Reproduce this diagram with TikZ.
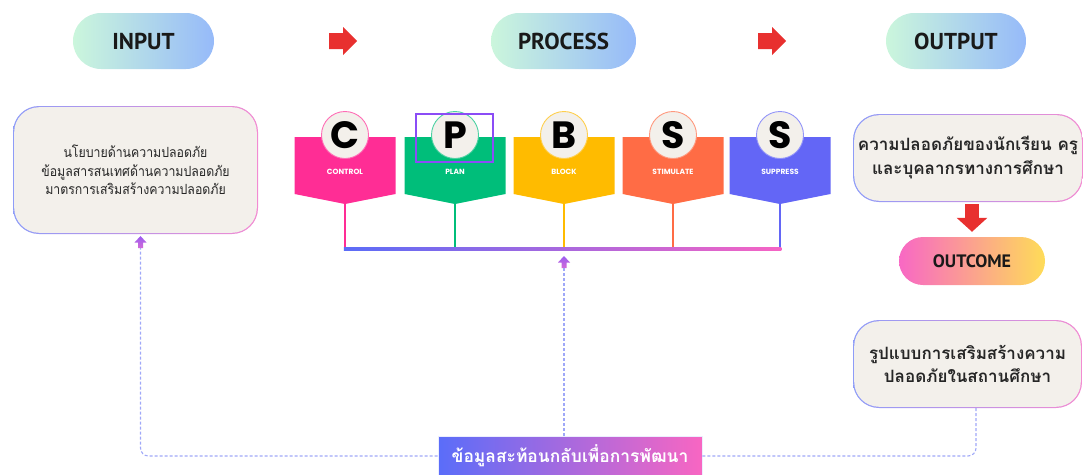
\documentclass[tikz,border=0pt]{standalone}
\usepackage{fontspec}
\setmainfont{PT Sans}
\newfontfamily\popfont{Poppins}
\newfontfamily\thaifont[Script=Thai]{Loma}
\newfontfamily\thainarrow[Script=Thai,FakeStretch=0.88]{Loma}
\usetikzlibrary{calc,arrows.meta}
\definecolor{beige}{HTML}{F3F0EB}
\definecolor{pillL}{HTML}{CBF6DC}
\definecolor{pillR}{HTML}{96BAF9}
\definecolor{bordL}{HTML}{8E9CF8}
\definecolor{bordR}{HTML}{F28BD2}
\definecolor{cctrl}{HTML}{FF2D95}
\definecolor{cplan}{HTML}{00BE7A}
\definecolor{cblock}{HTML}{FFBB00}
\definecolor{cstim}{HTML}{FF6C45}
\definecolor{csupp}{HTML}{6366F6}
\definecolor{arrred}{HTML}{E8302F}
\definecolor{planpurple}{HTML}{8B4CF6}
\definecolor{fbline}{HTML}{9FA8F8}
\definecolor{busL}{HTML}{5B6CF7}
\definecolor{busM}{HTML}{A262EE}
\definecolor{busR}{HTML}{F664C4}
\definecolor{fbL}{HTML}{5A6DF9}
\definecolor{fbR}{HTML}{F866C2}
\definecolor{ocL}{HTML}{F868C4}
\definecolor{ocM}{HTML}{FCA38A}
\definecolor{ocR}{HTML}{FEDC58}
\definecolor{upT}{HTML}{9A5CF0}
\definecolor{upB}{HTML}{D36AD8}
\begin{document}
\begin{tikzpicture}[x=1pt,y=-1pt,
  pill/.style={rectangle,rounded corners=28pt,minimum width=141pt,minimum height=56pt,inner sep=0pt,
    left color=pillL,right color=pillR,font=\bfseries\fontsize{23}{26}\selectfont,text=black!90},
  outerbox/.style={rectangle,rounded corners=26pt,inner sep=0pt,left color=bordL,right color=bordR},
  innerbox/.style={rectangle,rounded corners=25pt,inner sep=0pt,fill=beige,align=center,text=black!85},
  blocklabel/.style={font=\popfont\bfseries\fontsize{7.5}{8}\selectfont,text=white},
  letter/.style={circle,fill=beige,line width=0.9pt,minimum size=47pt,inner sep=0pt,
    font=\popfont\bfseries\fontsize{38}{38}\selectfont,text=black},
  fbl/.style={draw=fbline,line width=1.1pt,dash pattern=on 3pt off 2pt,rounded corners=8pt},
  redarrow/.style={fill=arrred},
  uparrow/.style={top color=upT,bottom color=upB}
]
\useasboundingbox (0,0) rectangle (1083,474);

% header pills
\node[pill] (input) at (143.5,41) {INPUT};
\node[pill,minimum width=145pt] (process) at (563.5,41) {PROCESS};
\node[pill,minimum width=140pt] (output) at (956,41) {OUTPUT};

% red right arrows
\fill[redarrow] (329,33) -- (343,33) -- (343,27) -- (357,41) -- (343,55) -- (343,49) -- (329,49) -- cycle;
\fill[redarrow] (758,33) -- (772,33) -- (772,27) -- (786,41) -- (772,55) -- (772,49) -- (758,49) -- cycle;

% input box
\node[outerbox,minimum width=245pt,minimum height=128pt] (inb) at (135.5,170) {};
\node[innerbox,minimum width=242.6pt,minimum height=125.6pt,
  font=\thainarrow\fontsize{14}{18.5}\selectfont] (intext) at (inb)
  {นโยบายด้านความปลอดภัย\\ข้อมูลสารสนเทศด้านความปลอดภัย\\มาตรการเสริมสร้างความปลอดภัย};

% output box 1
\node[outerbox,minimum width=230pt,minimum height=88pt] (out1) at (968,158) {};
\node[innerbox,minimum width=227.6pt,minimum height=85.6pt,
  font=\thaifont\bfseries\fontsize{17}{24}\selectfont] (out1t) at (out1)
  {ความปลอดภัยของนักเรียน ครู\\และบุคลากรทางการศึกษา};

% outcome pill
\node[rectangle,rounded corners=24pt,minimum width=146pt,minimum height=48pt,inner sep=0pt,
  left color=ocL,middle color=ocM,right color=ocR,
  font=\bfseries\fontsize{18}{20}\selectfont,text=black!90] (outc) at (972,261) {OUTCOME};

% red down arrow out1 -> outcome
\draw[arrred,line width=14pt,-{Triangle[width=30pt,length=14pt]},shorten <=2pt,shorten >=5pt]
  (out1.south -| outc) -- (outc.north);

% output box 2
\node[outerbox,minimum width=229pt,minimum height=88pt] (out2) at (967.5,364) {};
\node[innerbox,minimum width=226.6pt,minimum height=85.6pt,
  font=\thaifont\bfseries\fontsize{17}{23}\selectfont] (out2t) at (out2)
  {รูปแบบการเสริมสร้างความ\\ปลอดภัยในสถานศึกษา};

% process blocks
\coordinate (busy) at (0,248);
\foreach \cx/\col/\L/\lab/\n in {345/cctrl/C/CONTROL/1, 455/cplan/P/PLAN/2,
    564/cblock/B/BLOCK/3, 673/cstim/S/STIMULATE/4, 780/csupp/S/SUPPRESS/5}{
  \fill[\col] (\cx-50.5,137) -- (\cx+50.5,137) -- (\cx+50.5,194) -- (\cx,204)
     -- (\cx-50.5,194) -- cycle;
  \coordinate (tip\n) at (\cx,204);
  \draw[\col,line width=2.5pt] (tip\n) -- (tip\n |- busy);
  \node[letter,draw=\col!70!white] (circ\n) at (\cx,135) {\L};
  \node[blocklabel] (lab\n) at (\cx,172) {\lab};
}
% bus
\shade[left color=busL,middle color=busM,right color=busR] (tip1 |- busy) ++(-1.25,-0.5)
  rectangle ($(tip5 |- busy)+(1.25,2.5)$);

% PLAN highlight
\node[draw=planpurple,line width=2.6pt,minimum width=77pt,minimum height=48pt,inner sep=0pt]
  (hl) at (454.5,138) {};

% feedback box
\node[rectangle,minimum width=264pt,minimum height=40pt,inner sep=0pt,
  left color=fbL,right color=fbR,draw=white!80!fbline,line width=0.8pt,
  font=\thaifont\bfseries\fontsize{17.4}{20}\selectfont,text=white] (fbox) at (570,456)
  {ข้อมูลสะท้อนกลับเพื่อการพัฒนา};

% up arrows
\coordinate (ua1) at (140.5,248);
\coordinate (ua2) at (564,268);
\shade[uparrow] (140.5,236) -- (146.5,242.5) -- (143,242.5) -- (143,248) -- (138,248)
  -- (138,242.5) -- (134.5,242.5) -- cycle;
\shade[uparrow] (564,256) -- (570,262.5) -- (566.5,262.5) -- (566.5,268) -- (561.5,268)
  -- (561.5,262.5) -- (558,262.5) -- cycle;

% feedback dashed connectors
\path (out2.south) ++(8.5,0) coordinate (ob);
\draw[fbl] (fbox.west) -| (ua1);
\draw[fbl] (ua2 |- fbox.north) -- (ua2);
\draw[fbl] (fbox.east) -| (ob);
\end{tikzpicture}
\end{document}
